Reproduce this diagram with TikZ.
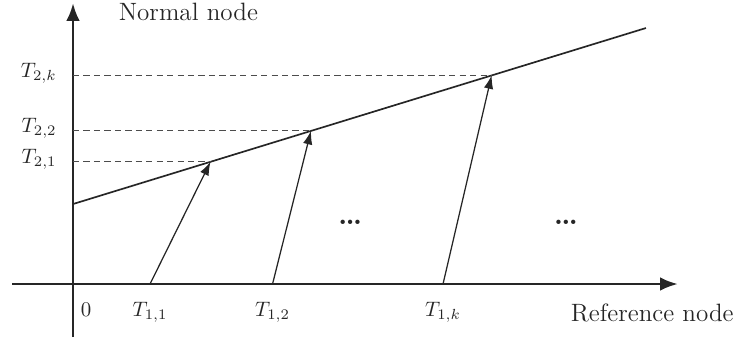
\documentclass[tikz,border=0pt]{standalone}
\usetikzlibrary{arrows.meta,calc}
\tikzset{
  axis/.style={line width=1.4pt, draw=black!85, -{Latex[length=8.5pt,width=6.5pt]}},
  rate/.style={line width=0.8pt, draw=black!85},
  hint/.style={line width=0.5pt, draw=black!70, dash pattern=on 3pt off 2pt},
  map/.style={line width=0.6pt, draw=black!85, -{Latex[length=6.5pt,width=4.5pt]}},
  lbl/.style={inner sep=0pt, text=black!85},
  word/.style={lbl, font=\large},
  gap/.style={lbl, font=\Large\bfseries},
}

\begin{document}
\begin{tikzpicture}
  \useasboundingbox (-1.228,-0.942) rectangle (11.149,4.776);

  % axes
  \coordinate (o) at (0,0);
  \coordinate (xs) at (-1.026,0);
  \coordinate (xe) at (10.173,0);
  \coordinate (ys) at (0,-0.891);
  \coordinate (ye) at (0,4.725);
  \draw[axis] (xs) -- (xe);
  \draw[axis] (ys) -- (ye);

  % clock line
  \coordinate (l0) at (0,1.345);
  \coordinate (l1) at (9.635,4.305);
  \draw[rate] (l0) -- (l1);

  % samples
  \coordinate (b1) at (1.295,0);
  \coordinate (b2) at (3.355,0);
  \coordinate (bk) at (6.222,0);
  \coordinate (p1) at (2.312,2.056);
  \coordinate (p2) at (4.002,2.576);
  \coordinate (pk) at (7.040,3.511);
  \coordinate (a1) at (0,2.056);
  \coordinate (a2) at (0,2.576);
  \coordinate (ak) at (0,3.511);

  \draw[hint] (a1) -- (p1);
  \draw[hint] (a2) -- (p2);
  \draw[hint] (ak) -- (pk);

  \draw[map] (b1) -- (p1);
  \draw[map] (b2) -- (p2);
  \draw[map] (bk) -- (pk);

  % labels
  \node[word, anchor=base west] (ny) at (0.762,4.428) {Normal node};
  \node[word, anchor=base east] (nx) at (11.115,-0.635) {Reference node};
  \node[lbl, anchor=base] (zero) at (0.219,-0.54) {0};
  \node[lbl, anchor=base] (t11) at ($(b1)+(0,-0.54)$) {$T_{1,1}$};
  \node[lbl, anchor=base] (t12) at ($(b2)+(0,-0.54)$) {$T_{1,2}$};
  \node[lbl, anchor=base] (t1k) at ($(bk)+(0,-0.54)$) {$T_{1,k}$};
  \node[lbl, anchor=base east] (t21) at ($(a1)+(-0.269,-0.03)$) {$T_{2,1}$};
  \node[lbl, anchor=base east] (t22) at ($(a2)+(-0.269,-0.03)$) {$T_{2,2}$};
  \node[lbl, anchor=base east] (t2k) at ($(ak)+(-0.269,-0.03)$) {$T_{2,k}$};

  \node[gap] (d1) at (4.66,1.043) {\ldots};
  \node[gap] (d2) at (8.29,1.043) {\ldots};
\end{tikzpicture}
\end{document}
